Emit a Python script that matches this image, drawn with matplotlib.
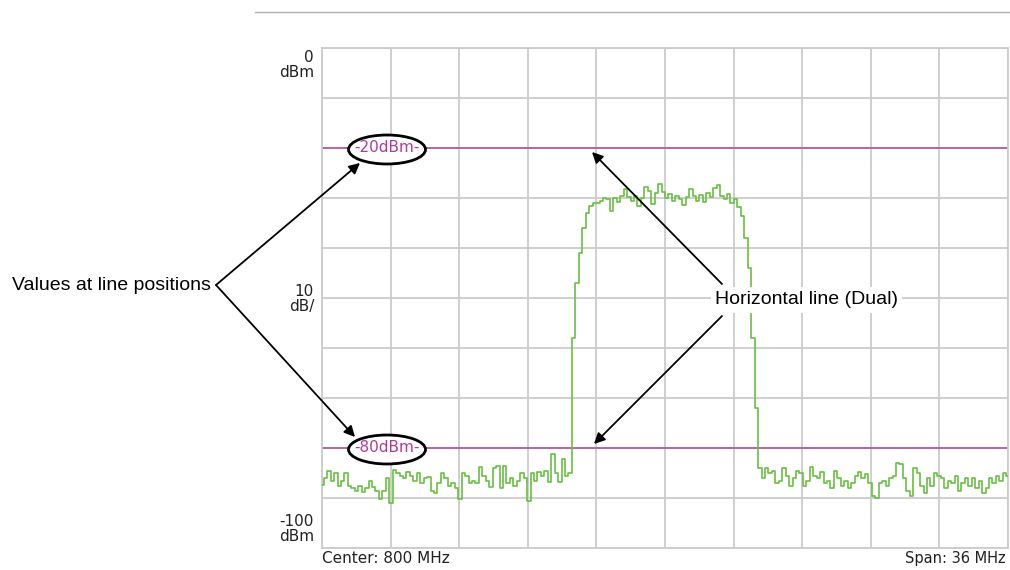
import numpy as np
import matplotlib.pyplot as plt
from matplotlib.patches import Ellipse

center_mhz = 800
span_mhz = 36
ref_level = 0
bottom_level = -100
line_levels = [-20, -80]
line_labels = ['-20dBm-', '-80dBm-']

# trace, left noise / rise / top / fall / right noise
noise_left = [-87.4, -86.0, -84.5, -86.5, -85.0, -87.5, -86.5, -85.0, -87.5, -88.0,
              -88.5, -87.5, -88.8, -88.0, -86.5, -87.8, -88.5, -90.2, -88.5, -86.0,
              -91.0, -84.3, -85.0, -85.5, -86.0, -84.8, -85.5, -86.5, -85.0, -87.0,
              -86.0, -85.8, -88.5, -89.0, -87.0, -85.0, -86.0, -87.5, -87.0, -88.0,
              -90.2, -85.0, -85.5, -87.0, -86.5, -87.0, -83.8, -85.5, -86.5, -87.8,
              -84.0, -83.5, -88.0, -83.5, -87.0, -86.0, -87.5, -86.5, -85.0, -86.0,
              -90.5, -85.0, -86.5, -84.8, -85.5, -84.5, -86.8, -81.2, -85.0, -86.8,
              -82.2, -85.5, -85.0]
rise = [-58.0, -47.0, -41.0, -36.0, -33.0, -31.5, -31.0]
top = [-31.0, -30.5, -30.0, -30.2, -32.5, -30.0, -30.8, -29.5, -28.2, -29.8,
       -30.5, -29.5, -31.5, -30.0, -27.8, -28.5, -31.2, -29.0, -27.2, -28.8,
       -30.0, -29.2, -30.5, -29.5, -30.2, -31.3, -29.8, -28.2, -29.5, -30.5,
       -29.4, -30.8, -29.0, -29.8, -28.0, -27.4, -29.5, -30.2, -29.2, -31.0,
       -30.2, -31.8, -33.5]
fall = [-38.0, -44.0, -58.0, -72.0, -84.0, -86.0]
noise_right = [-84.0, -85.0, -84.5, -87.0, -86.5, -84.0, -85.5, -87.5, -86.0, -84.5,
               -85.0, -87.5, -86.5, -83.8, -85.5, -86.0, -84.8, -87.0, -86.5, -88.0,
               -84.5, -86.0, -87.5, -86.5, -88.0, -87.0, -85.5, -84.8, -86.0, -85.2,
               -87.0, -89.5, -90.0, -87.0, -86.5, -87.5, -86.0, -85.5, -83.0, -83.2,
               -86.0, -88.5, -89.5, -84.0, -85.0, -87.5, -89.0, -86.0, -87.5, -85.0,
               -85.5, -86.0, -88.0, -86.5, -87.0, -85.5, -88.5, -87.0, -86.0, -87.5,
               -86.0, -88.0, -86.5, -89.0, -88.0, -86.0, -87.0, -85.5, -86.5, -85.0,
               -85.5]

trace = np.array(noise_left + rise + top + fall + noise_right)
f_start = center_mhz - span_mhz / 2
f_stop = center_mhz + span_mhz / 2
freq = np.linspace(f_start, f_stop, len(trace))

W, H = 1010, 570
fig = plt.figure(figsize=(W / 100, H / 100), dpi=100)
ax = fig.add_axes([322 / W, 22 / H, 686 / W, 500 / H])

grid_col = '#cccccc'
magenta = '#b9509f'

ax.set_xlim(f_start, f_stop)
ax.set_ylim(bottom_level, ref_level)
ax.set_xticks(np.linspace(f_start, f_stop, 11))
ax.set_yticks(np.arange(bottom_level, ref_level + 1, 10))
ax.tick_params(length=0, labelbottom=False, labelleft=False)
ax.grid(True, color=grid_col, lw=1.3)
for s in ax.spines.values():
    s.set_color(grid_col)
    s.set_linewidth(1.3)

ax.step(freq, trace, where='mid', color='#6abf45', lw=1.2, zorder=3)

for lvl, lab in zip(line_levels, line_labels):
    ax.axhline(lvl, color=magenta, lw=1.2, zorder=2)
    ex = f_start + (387 - 322) / 686 * span_mhz
    ax.add_patch(Ellipse((ex, lvl - 0.3), 77 / 686 * span_mhz, 29 / 5, facecolor='white',
                         edgecolor='black', lw=2, zorder=4))
    ax.text(ex, lvl, lab, color='#b03a98', fontsize=11, ha='center', va='center',
            zorder=5)

# scale labels on the left
lab_kw = dict(fontsize=11, ha='right', va='top', linespacing=1.0,
              multialignment='right', color='#222222')
fig.text(314 / W, 1 - 50 / H, '0\ndBm', **lab_kw)
fig.text(314 / W, 1 - 284 / H, '10\ndB/', **lab_kw)
fig.text(314 / W, 1 - 514 / H, '-100\ndBm', **lab_kw)
fig.text(322 / W, 1 - 551 / H, 'Center: 800 MHz', fontsize=11, va='top', color='#222222')
fig.text(1006 / W, 1 - 551 / H, 'Span: 36 MHz', fontsize=10.5, va='top', ha='right',
         color='#222222')

# thin rule at the top
fig.add_artist(plt.Line2D([255 / W, 1.0], [1 - 12 / H, 1 - 12 / H], color='#b0b0b0', lw=1))

# callouts
arrow = dict(arrowstyle='-|>', color='black', lw=1.3, mutation_scale=16,
             shrinkA=0, shrinkB=0)
fig.text(12 / W, 1 - 285 / H, 'Values at line positions', family='Liberation Sans',
         fontsize=14, va='center', ha='left')
ax.annotate('', xy=(360, H - 163), xytext=(216, H - 285), xycoords='figure pixels',
            textcoords='figure pixels', arrowprops=arrow)
ax.annotate('', xy=(355, H - 437), xytext=(216, H - 285), xycoords='figure pixels',
            textcoords='figure pixels', arrowprops=arrow)

ax.annotate('', xy=(592, H - 152), xytext=(722, H - 284), xycoords='figure pixels',
            textcoords='figure pixels', arrowprops=arrow, zorder=6)
ax.annotate('', xy=(594, H - 444), xytext=(722, H - 316), xycoords='figure pixels',
            textcoords='figure pixels', arrowprops=arrow, zorder=6)
fig.text(715 / W, 1 - 300 / H, 'Horizontal line (Dual)', family='Liberation Sans',
         fontsize=14, va='center', ha='left', zorder=7,
         bbox=dict(facecolor='white', edgecolor='none', pad=3))

fig.savefig('out.png', dpi=100)
